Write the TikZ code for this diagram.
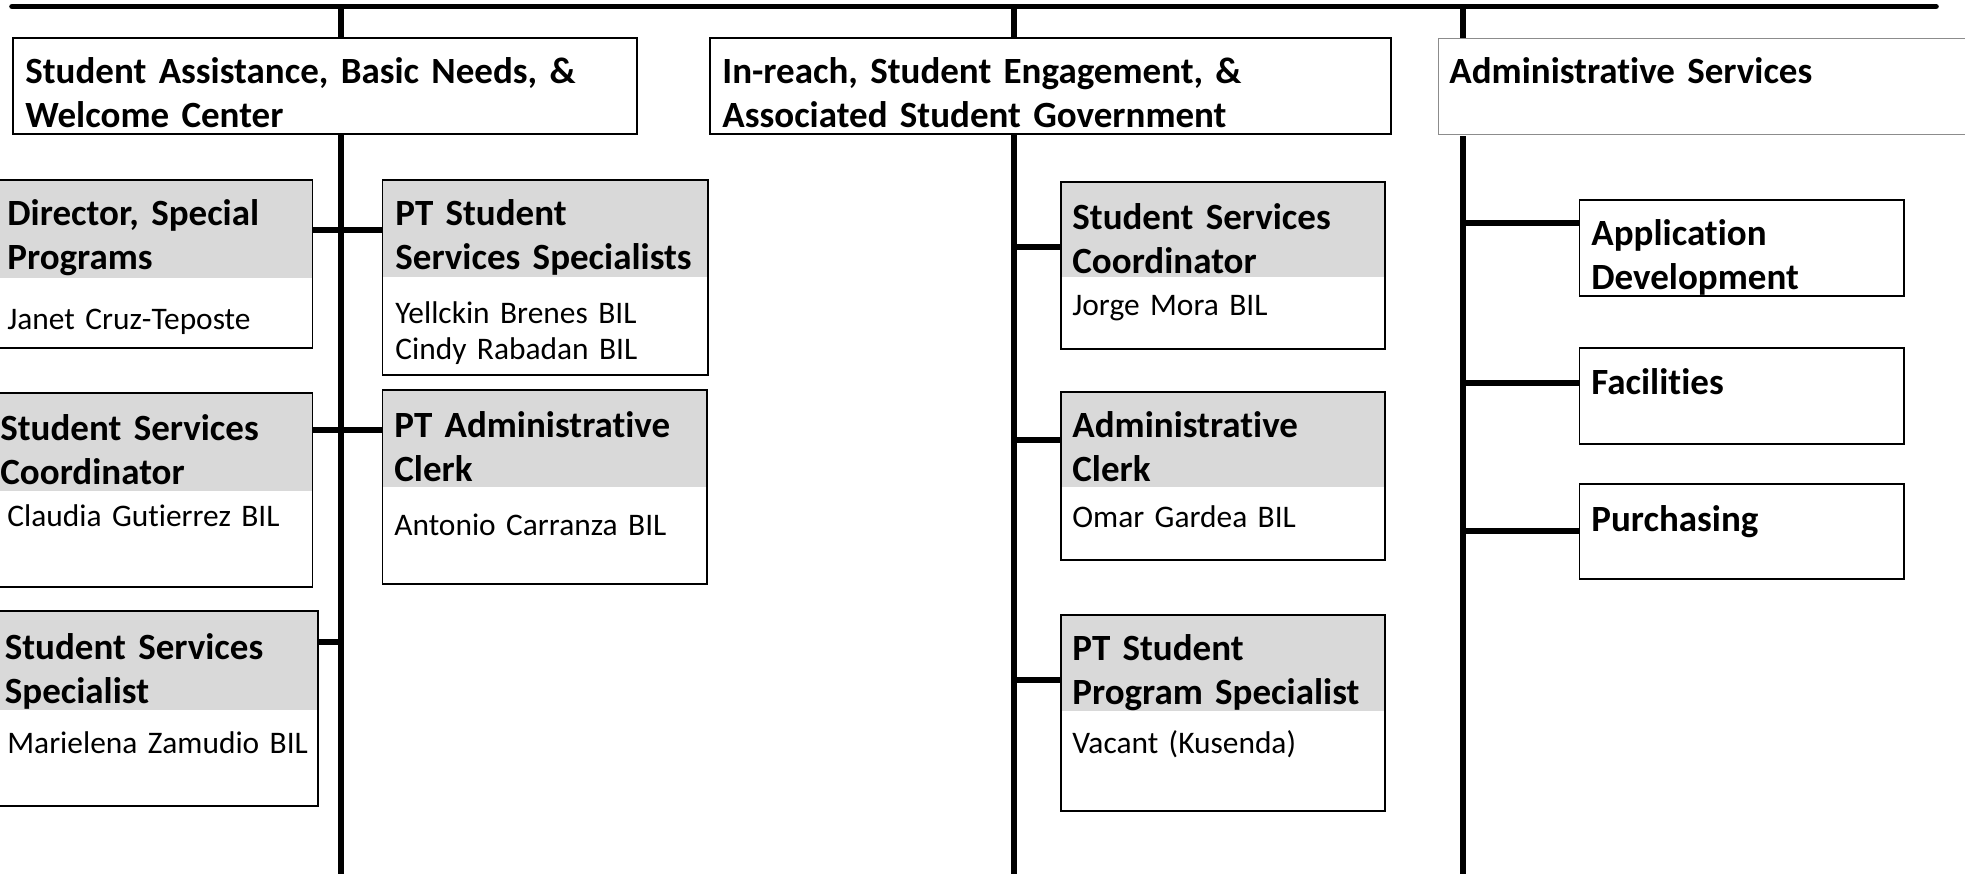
\documentclass[tikz,border=0pt]{standalone}
\usepackage{fontspec}
\setmainfont[Ligatures=NoCommon]{Carlito}
\usetikzlibrary{fit}
\definecolor{hdrgray}{HTML}{D9D9D9}
\definecolor{thingray}{HTML}{8C8C8C}
\newcommand{\tightwords}{\spaceskip 3.3pt\relax}
\tikzset{
    link/.style={line width=2.8pt},
    unitbox/.style={draw, line width=0.8pt, inner sep=0pt, outer sep=0pt},
    staffbox/.style={draw, line width=0.8pt, inner sep=0pt, outer sep=0pt},
    hdr/.style={path picture={\fill[hdrgray] (path picture bounding box.north west) rectangle ([yshift=-#1]path picture bounding box.north east);}},
    titletext/.style={font=\fontsize{18.5}{22}\selectfont\bfseries\tightwords, anchor=base west, inner sep=0pt, text width=330pt, align=left},
    nametext/.style={font=\fontsize{15.7}{18.3}\selectfont, anchor=base west, inner sep=0pt, text width=300pt, align=left}
}
\begin{document}
\begin{tikzpicture}[x=0.5pt,y=-0.5pt]
                \useasboundingbox (0,0) rectangle (1965,874);

                \coordinate (busL) at (12,6.5);
                \coordinate (busR) at (1936,6.5);
                \coordinate (s1) at (341,874);
                \coordinate (s2) at (1014,874);
                \coordinate (s3) at (1463,874);

                \node[unitbox, fit={(13,38) (637,134)}] (h1) {};
                \node[unitbox, fit={(710,38) (1391,134)}] (h2) {};
                \node[unitbox, draw=thingray, line width=0.4pt, fit={(1438,38) (1980,134)}] (h3) {};

                \node[titletext] (h1-t) at (25,83.5) {Student Assistance, Basic Needs, \&\\Welcome Center};
                \node[titletext] (h2-t) at (722,83.5) {In-reach, Student Engagement, \&\\Associated Student Government};
                \node[titletext] (h3-t) at (1449,83) {Administrative Services};

                \draw[link, line cap=round] (busL) -- (busR);
                \draw[link] (busL -| s1) -- (h1.north -| s1);
                \draw[link] (busL -| s2) -- (h2.north -| s2);
                \draw[link] (busL -| s3) -- (h3.north -| s3);

                \draw[link] (h1.south -| s1) -- (s1);
                \draw[link] (h2.south -| s2) -- (s2);
                \draw[link] ([yshift=-1pt]h3.south -| s3) -- (s3);

                \node[staffbox, hdr=49pt, fit={(-5,180) (312.5,348)}] (dir) {};
                \node[titletext] (dir-t) at (7,225) {Director, Special\\Programs};
                \node[nametext] (dir-n) at (7,329) {Janet Cruz-Teposte};

                \node[staffbox, hdr=48.5pt, fit={(382.5,180) (708,375)}] (ptss) {};
                \node[titletext] (ptss-t) at (395,225) {PT Student\\Services Specialists};
                \node[nametext] (ptss-n) at (395,323) {Yellckin Brenes BIL\\Cindy Rabadan BIL};

                \node[staffbox, hdr=49pt, fit={(-5,393) (312.5,587)}] (ssc1) {};
                \node[titletext] (ssc1-t) at (0,440) {Student Services\\Coordinator};
                \node[nametext] (ssc1-n) at (7,526) {Claudia Gutierrez BIL};

                \node[staffbox, hdr=48.5pt, fit={(382.5,390) (707,584)}] (ptac) {};
                \node[titletext] (ptac-t) at (394,437) {PT Administrative\\Clerk};
                \node[nametext] (ptac-n) at (394,535) {Antonio Carranza BIL};

                \node[staffbox, hdr=49.5pt, fit={(-5,611) (318,806)}] (sss) {};
                \node[titletext] (sss-t) at (4.5,659) {Student Services\\Specialist};
                \node[nametext] (sss-n) at (7,753) {Marielena Zamudio BIL};

                \draw[link] (dir.east |- 0,230) -- (ptss.west |- 0,230);
                \draw[link] (ssc1.east |- 0,430) -- (ptac.west |- 0,430);
                \draw[link] (sss.east |- 0,642) -- (s1 |- 0,642);

                \node[staffbox, hdr=47.5pt, fit={(1061,182) (1385,349)}] (ssc2) {};
                \node[titletext] (ssc2-t) at (1072,229) {Student Services\\Coordinator};
                \node[nametext] (ssc2-n) at (1072,315) {Jorge Mora BIL};

                \node[staffbox, hdr=47.5pt, fit={(1061,392) (1385,560)}] (ac) {};
                \node[titletext] (ac-t) at (1072,437) {Administrative\\Clerk};
                \node[nametext] (ac-n) at (1072,527) {Omar Gardea BIL};

                \node[staffbox, hdr=48pt, fit={(1061,615) (1385,811)}] (ptsps) {};
                \node[titletext] (ptsps-t) at (1072,660) {PT Student\\Program Specialist};
                \node[nametext] (ptsps-n) at (1072,753) {Vacant (Kusenda)};

                \draw[link] (s2 |- 0,247) -- (ssc2.west |- 0,247);
                \draw[link] (s2 |- 0,440) -- (ac.west |- 0,440);
                \draw[link] (s2 |- 0,680) -- (ptsps.west |- 0,680);

                \node[staffbox, fit={(1579.5,200) (1904,296)}] (appdev) {};
                \node[titletext] (appdev-t) at (1591,245) {Application\\Development};

                \node[staffbox, fit={(1579.5,348) (1904,444)}] (fac) {};
                \node[titletext] (fac-t) at (1591,394) {Facilities};

                \node[staffbox, fit={(1579.5,484) (1904,579)}] (pur) {};
                \node[titletext] (pur-t) at (1591,531) {Purchasing};

                \draw[link] (s3 |- 0,223) -- (appdev.west |- 0,223);
                \draw[link] (s3 |- 0,383) -- (fac.west |- 0,383);
                \draw[link] (s3 |- 0,531) -- (pur.west |- 0,531);
\end{tikzpicture}
\end{document}
